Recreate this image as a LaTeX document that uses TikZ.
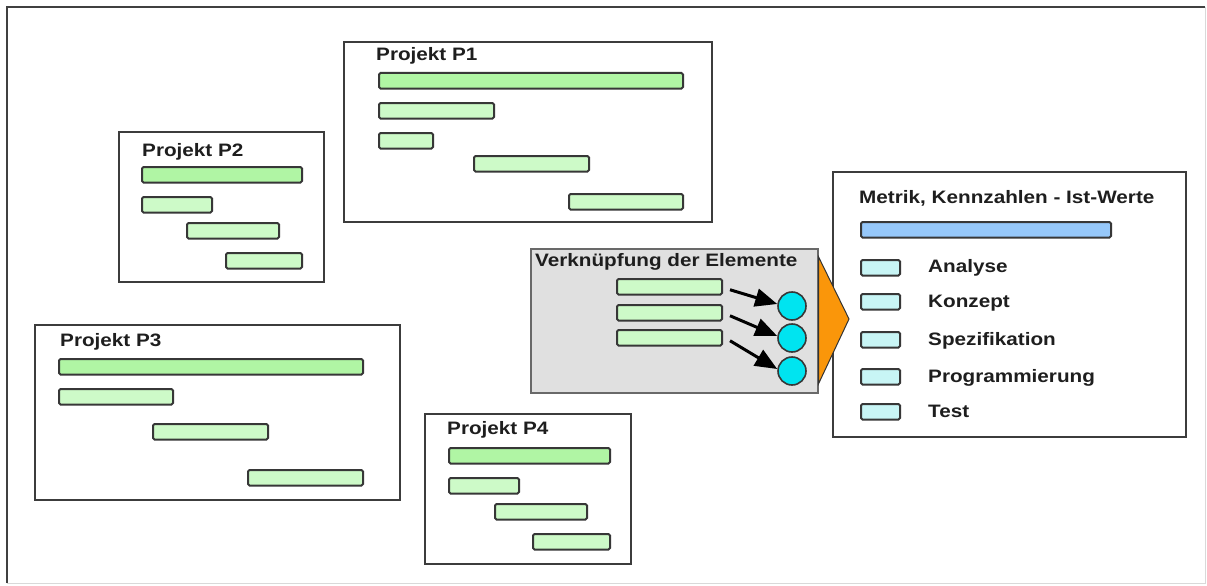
\documentclass[tikz,border=0pt]{standalone}
\usepackage{fontspec}
\setmainfont{Liberation Sans}[FakeStretch=1.15]
\usetikzlibrary{arrows.meta,calc}
\definecolor{mainbarc}{RGB}{176,245,164}
\definecolor{subbarc}{RGB}{205,250,200}
\definecolor{bardraw}{RGB}{55,55,55}
\definecolor{boxdraw}{RGB}{60,60,60}
\definecolor{grayfill}{RGB}{224,224,224}
\definecolor{graydraw}{RGB}{105,105,105}
\definecolor{cyanc}{RGB}{0,228,240}
\definecolor{bluebar}{RGB}{150,200,250}
\definecolor{legendc}{RGB}{200,245,245}
\definecolor{orangec}{RGB}{250,150,10}
\definecolor{textc}{RGB}{30,30,30}
\tikzset{
  frame/.style={draw=boxdraw,line width=1.6pt,fill=white},
  barbase/.style={draw=bardraw,line width=2pt,rounded corners=1.5pt,anchor=north west,inner sep=0pt,minimum height=15.5pt},
  mainbar/.style={barbase,fill=mainbarc},
  subbar/.style={barbase,fill=subbarc},
  lbl/.style={anchor=base west,inner sep=0pt,font=\fontsize{18}{20}\selectfont\bfseries,text=textc},
  arr/.style={line width=3pt,-{Triangle[length=22pt,width=18pt]}},
}
\begin{document}
\begin{tikzpicture}[x=1pt,y=-1pt]
\useasboundingbox (0,0) rectangle (1207,586);
% outer frame
\draw[line width=1pt,draw=gray!30] (1205,7) -- (1205,583) -- (7,583);
\draw[line width=2pt,draw=black!75] (7,583) -- (7,7) -- (1205,7);

% Projekt P1
\draw[frame] (344,42) rectangle (712,222);
\node[lbl] (t1) at (376,61) {Projekt P1};
\node[mainbar,minimum width=304] (p1a) at (378,72) {};
\node[subbar,minimum width=115] (p1b) at (378,102) {};
\node[subbar,minimum width=54] (p1c) at (378,132) {};
\node[subbar,minimum width=115] (p1d) at (473,155) {};
\node[subbar,minimum width=114] (p1e) at (568,193) {};

% Projekt P2
\draw[frame] (119,132) rectangle (324,282);
\node[lbl] (t2) at (142,156) {Projekt P2};
\node[mainbar,minimum width=160] (p2a) at (141,166) {};
\node[subbar,minimum width=70] (p2b) at (141,196) {};
\node[subbar,minimum width=92] (p2c) at (186,222) {};
\node[subbar,minimum width=76] (p2d) at (225,252) {};

% Projekt P3
\draw[frame] (35,325) rectangle (400,500);
\node[lbl] (t3) at (60,346) {Projekt P3};
\node[mainbar,minimum width=304] (p3a) at (58,358) {};
\node[subbar,minimum width=114] (p3b) at (58,388) {};
\node[subbar,minimum width=115] (p3c) at (152,423) {};
\node[subbar,minimum width=115] (p3d) at (247,469) {};

% Projekt P4
\draw[frame] (425,414) rectangle (631,564);
\node[lbl] (t4) at (447,434) {Projekt P4};
\node[mainbar,minimum width=161] (p4a) at (448,447) {};
\node[subbar,minimum width=70] (p4b) at (448,477) {};
\node[subbar,minimum width=92] (p4c) at (494,503) {};
\node[subbar,minimum width=77] (p4d) at (532,533) {};

% Metrik box
\draw[frame] (833,172) rectangle (1186,437);
\node[lbl] (tm) at (859,203) {Metrik, Kennzahlen - Ist-Werte};
\node[barbase,fill=bluebar,minimum width=250] (mb) at (860,221) {};
\node[barbase,fill=legendc,minimum width=39] (l1) at (860,259) {};
\node[barbase,fill=legendc,minimum width=39] (l2) at (860,293) {};
\node[barbase,fill=legendc,minimum width=39] (l3) at (860,331) {};
\node[barbase,fill=legendc,minimum width=39] (l4) at (860,368) {};
\node[barbase,fill=legendc,minimum width=39] (l5) at (860,403) {};
\node[lbl] (a1) at (928,272) {Analyse};
\node[lbl] (a2) at (928,307) {Konzept};
\node[lbl] (a3) at (928,345) {Spezifikation};
\node[lbl] (a4) at (928,382) {Programmierung};
\node[lbl] (a5) at (928,417) {Test};

% Verknuepfung box
\node[draw=graydraw,fill=grayfill,line width=1.6pt,anchor=north west,inner sep=0pt,minimum width=287,minimum height=144] (gbox) at (530,248) {};
\node[lbl] (tg) at (535,266) {Verknüpfung der Elemente};
\node[subbar,minimum width=105] (g1) at (616,278) {};
\node[subbar,minimum width=105] (g2) at (616,304) {};
\node[subbar,minimum width=105] (g3) at (616,329) {};
\node[circle,draw=bardraw,fill=cyanc,line width=1.6pt,minimum size=28,inner sep=0pt] (c1) at (792,306) {};
\node[circle,draw=bardraw,fill=cyanc,line width=1.6pt,minimum size=28,inner sep=0pt] (c2) at (792,338) {};
\node[circle,draw=bardraw,fill=cyanc,line width=1.6pt,minimum size=28,inner sep=0pt] (c3) at (792,371) {};
\draw[arr] ($(g1.east)+(7,3)$) -- ($(c1.west)+(0,-2)$);
\draw[arr] ($(g2.east)+(7,3)$) -- ($(c2.west)+(0,-2)$);
\draw[arr] ($(g3.east)+(7,3)$) -- ($(c3.west)+(0,-2)$);

% orange arrow head
\coordinate (tip) at (849,319);
\draw[fill=orangec,draw=black!80,line width=1pt,line join=miter] ($(gbox.north east)+(0,9)$) -- (tip) -- ($(gbox.south east)+(0,-10)$) -- cycle;
\end{tikzpicture}
\end{document}
